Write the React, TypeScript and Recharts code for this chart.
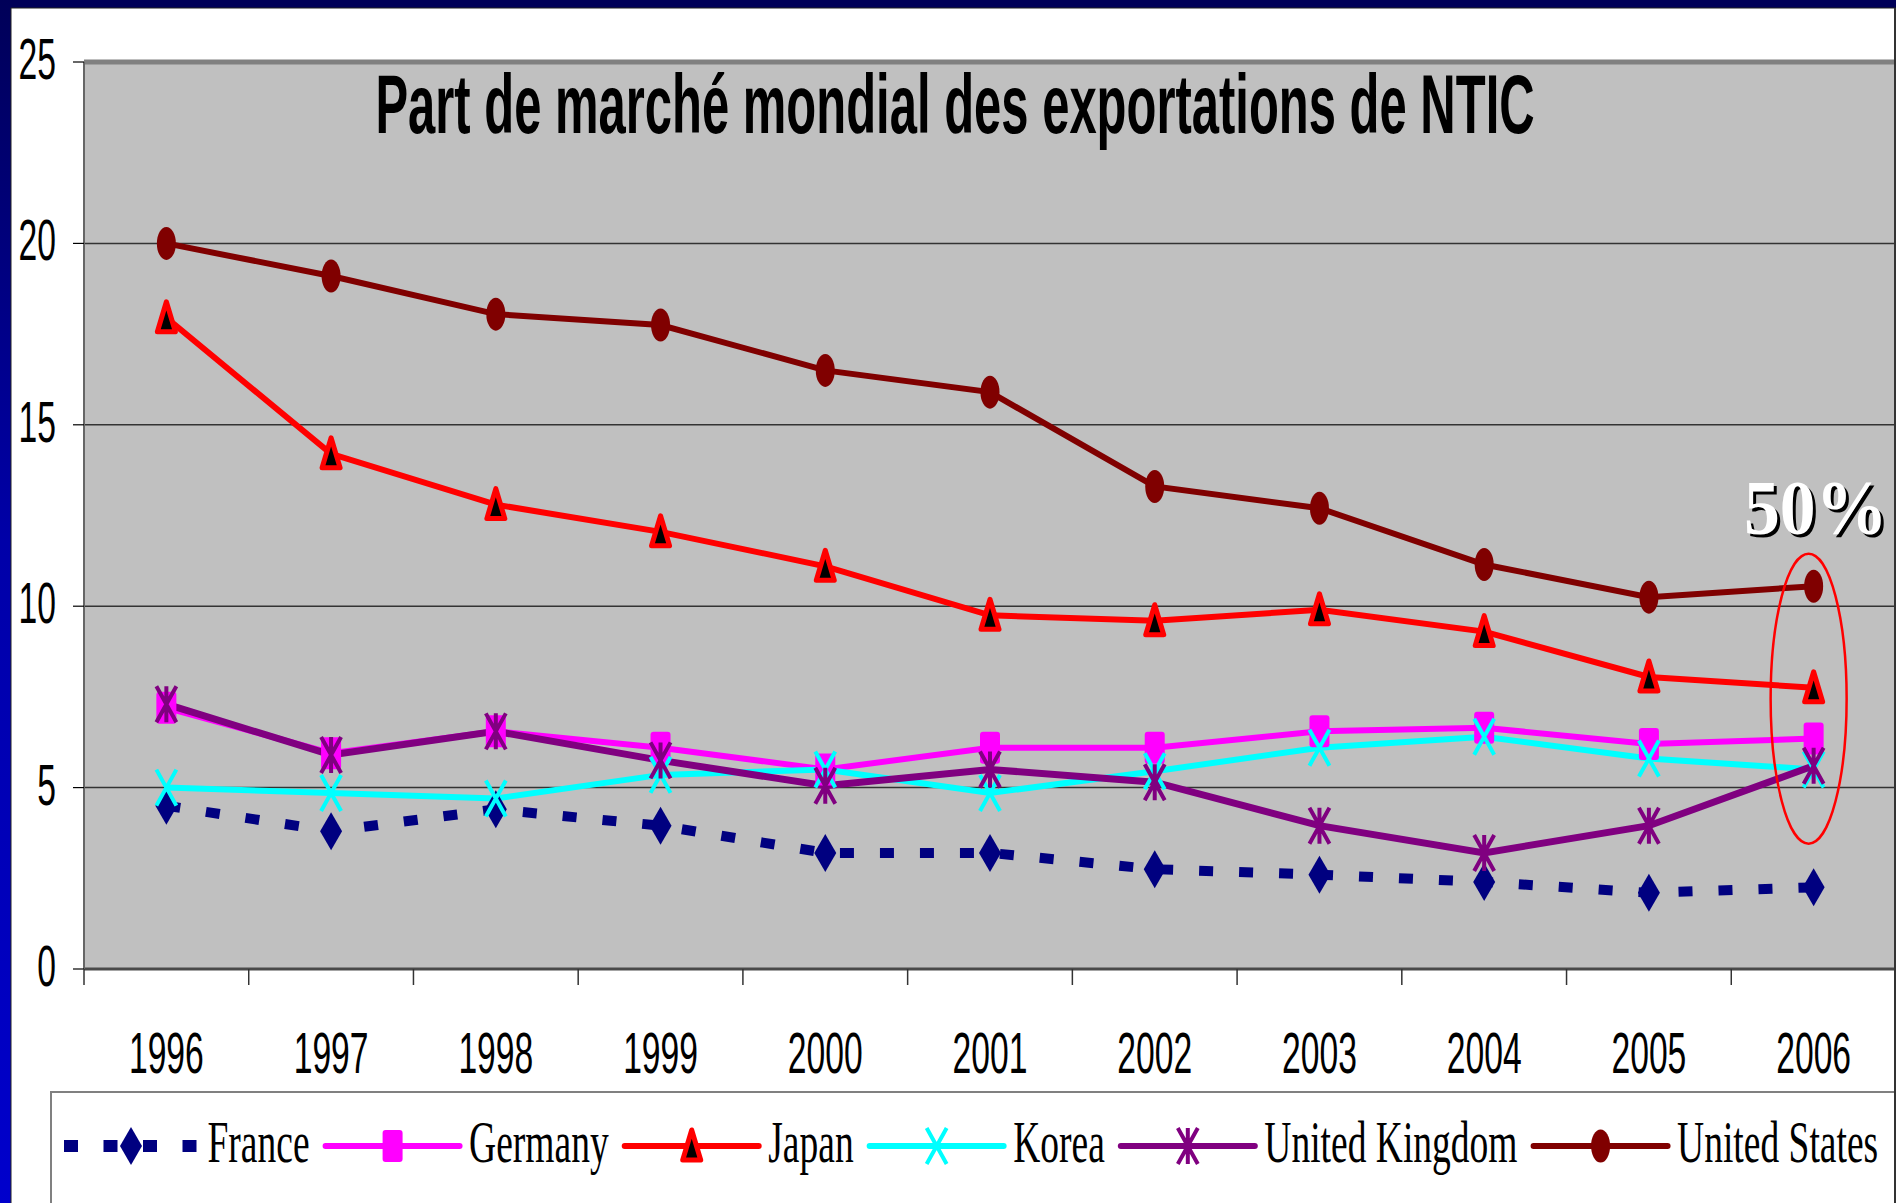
import React from 'react';
import {
  LineChart,
  Line,
  XAxis,
  YAxis,
  CartesianGrid,
  Legend,
  ReferenceLine,
  ReferenceDot,
} from 'recharts';

// ---------- data ----------
const YEARS = ['1996', '1997', '1998', '1999', '2000', '2001', '2002', '2003', '2004', '2005', '2006'];
const FRANCE = [4.5, 3.8, 4.4, 3.95, 3.2, 3.2, 2.75, 2.6, 2.4, 2.1, 2.25];
const GERMANY = [7.2, 5.95, 6.55, 6.1, 5.5, 6.1, 6.1, 6.55, 6.65, 6.2, 6.35];
const JAPAN = [17.95, 14.2, 12.8, 12.05, 11.1, 9.75, 9.6, 9.9, 9.3, 8.05, 7.75];
const KOREA = [5.0, 4.85, 4.7, 5.35, 5.5, 4.85, 5.45, 6.1, 6.4, 5.8, 5.5];
const UNITED_KINGDOM = [7.3, 5.9, 6.55, 5.75, 5.05, 5.5, 5.15, 3.95, 3.2, 3.95, 5.6];
const UNITED_STATES = [20.0, 19.1, 18.05, 17.75, 16.5, 15.9, 13.3, 12.7, 11.15, 10.25, 10.55];
const Y_TICKS = [0, 5, 10, 15, 20, 25];
const TITLE = 'Part de marché mondial des exportations de NTIC';
const ANNOTATION = '50%';
const ANNOTATION_YEAR = '2006';

type MarkerType = 'diamond' | 'square' | 'triangle' | 'x' | 'star' | 'ellipse';
interface SeriesDef {
  key: string;
  values: number[];
  color: string;
  width: number;
  dash?: string;
  marker: MarkerType;
}

const SERIES: SeriesDef[] = [
  { key: 'France', values: FRANCE, color: '#000080', width: 10, dash: '14 26', marker: 'diamond' },
  { key: 'Germany', values: GERMANY, color: '#FF00FF', width: 6, marker: 'square' },
  { key: 'Japan', values: JAPAN, color: '#FF0000', width: 6, marker: 'triangle' },
  { key: 'Korea', values: KOREA, color: '#00FFFF', width: 6, marker: 'x' },
  { key: 'United Kingdom', values: UNITED_KINGDOM, color: '#800080', width: 7, marker: 'star' },
  { key: 'United States', values: UNITED_STATES, color: '#800000', width: 6, marker: 'ellipse' },
];

const chartData = YEARS.map((year, i) => {
  const row: Record<string, string | number> = { year };
  SERIES.forEach((s) => {
    row[s.key] = s.values[i];
  });
  return row;
});

// ---------- layout ----------
const W = 1896;
const H = 1203;
const PLOT_LEFT = 84;
const PLOT_RIGHT = 1896;
const BAND = (PLOT_RIGHT - PLOT_LEFT) / YEARS.length;
const SANS = '"Liberation Sans", Arial, sans-serif';
const SERIF = '"Liberation Serif", "Times New Roman", serif';
const SQUEEZE = 0.58;
const LEGEND_SQUEEZE = 0.636;
const LEGEND_FONT = 59;

function Marker({ type, cx, cy, color }: { type: MarkerType; cx: number; cy: number; color: string }) {
  switch (type) {
    case 'diamond':
      return <polygon points={`${cx},${cy - 19} ${cx + 11},${cy} ${cx},${cy + 19} ${cx - 11},${cy}`} fill={color} />;
    case 'square':
      return <rect x={cx - 10} y={cy - 16} width={20} height={32} rx={3} fill={color} />;
    case 'triangle':
      return (
        <polygon
          points={`${cx},${cy - 16} ${cx + 9},${cy + 14} ${cx - 9},${cy + 14}`}
          fill="#000"
          stroke={color}
          strokeWidth={5}
          strokeLinejoin="round"
        />
      );
    case 'x':
      return (
        <path
          d={`M${cx - 10},${cy - 18}L${cx + 10},${cy + 18}M${cx + 10},${cy - 18}L${cx - 10},${cy + 18}`}
          stroke={color}
          strokeWidth={4}
          fill="none"
        />
      );
    case 'star':
      return (
        <path
          d={`M${cx - 10},${cy - 18}L${cx + 10},${cy + 18}M${cx + 10},${cy - 18}L${cx - 10},${cy + 18}M${cx},${cy - 18}L${cx},${cy + 18}`}
          stroke={color}
          strokeWidth={4}
          fill="none"
        />
      );
    case 'ellipse':
    default:
      return <ellipse cx={cx} cy={cy} rx={9.5} ry={16.5} fill={color} />;
  }
}

const makeDot = (s: SeriesDef) => (props: any) => {
  const { cx, cy, index } = props;
  if (cx == null || cy == null) return <g key={`${s.key}-${index}`} />;
  return (
    <g key={`${s.key}-${index}`}>
      <Marker type={s.marker} cx={cx} cy={cy} color={s.color} />
    </g>
  );
};

const renderYTick = (props: any) => {
  const { x, y, payload } = props;
  return (
    <text
      transform={`translate(${x},${y + 17}) scale(${SQUEEZE},1)`}
      textAnchor="end"
      fontSize={58}
      fontFamily={SANS}
      fill="#000"
    >
      {payload.value}
    </text>
  );
};

const renderXTick = (props: any) => {
  const { x, y, payload, index } = props;
  const half = BAND / 2;
  const last = index === YEARS.length - 1;
  return (
    <g>
      <line x1={x - half} x2={x - half} y1={y - 16} y2={y} stroke="#333" strokeWidth={1.5} />
      {last && <line x1={x + half} x2={x + half} y1={y - 16} y2={y} stroke="#333" strokeWidth={1.5} />}
      <text
        transform={`translate(${x},${y + 88}) scale(${SQUEEZE},1)`}
        textAnchor="middle"
        fontSize={58}
        fontFamily={SANS}
        fill="#000"
      >
        {payload.value}
      </text>
    </g>
  );
};

let measureCtx: CanvasRenderingContext2D | null = null;
function measure(text: string): number {
  try {
    if (!measureCtx) measureCtx = document.createElement('canvas').getContext('2d');
    if (measureCtx) {
      measureCtx.font = `${LEGEND_FONT}px "Liberation Serif"`;
      return measureCtx.measureText(text).width;
    }
  } catch (e) {
    /* ignore */
  }
  return text.length * LEGEND_FONT * 0.45;
}

function LegendBox() {
  const SAMPLE = 134;
  const GAP_TEXT = 9.5;
  const GAP_ITEM = 16;
  let x = 12;
  const lineY = 53;
  const baseY = 69;
  const items = SERIES.map((s) => {
    const x0 = x;
    const tw = measure(s.key) * LEGEND_SQUEEZE;
    x = x0 + SAMPLE + GAP_TEXT + tw + GAP_ITEM;
    return (
      <g key={s.key}>
        <line
          x1={x0}
          x2={x0 + SAMPLE}
          y1={lineY}
          y2={lineY}
          stroke={s.color}
          strokeWidth={s.dash ? 12 : 6}
          strokeDasharray={s.dash ? '14 25.5' : undefined}
          strokeLinecap={s.dash ? 'butt' : 'round'}
        />
        <Marker type={s.marker} cx={x0 + SAMPLE / 2} cy={lineY} color={s.color} />
        <text
          transform={`translate(${x0 + SAMPLE + GAP_TEXT},${baseY}) scale(${LEGEND_SQUEEZE},1)`}
          fontSize={LEGEND_FONT}
          fontFamily={SERIF}
          fill="#000"
        >
          {s.key}
        </text>
      </g>
    );
  });
  return (
    <div
      style={{
        width: W - 50,
        height: H - 1091,
        borderTop: '2px solid #808080',
        borderLeft: '2px solid #808080',
        boxSizing: 'border-box',
        background: '#fff',
      }}
    >
      <svg width={W - 52} height={H - 1093} style={{ display: 'block' }}>
        {items}
      </svg>
    </div>
  );
}

export default function App() {
  return (
    <div style={{ position: 'absolute', left: 0, top: 0, width: W, height: H, background: '#fff', overflow: 'hidden' }}>
      <LineChart width={W} height={H} data={chartData} margin={{ top: 62, right: 0, bottom: 114, left: 0 }}>
        <CartesianGrid vertical={false} stroke="#333" strokeWidth={1.5} fill="#C0C0C0" fillOpacity={1} />
        <XAxis
          dataKey="year"
          padding={{ left: BAND / 2, right: BAND / 2 }}
          height={120}
          tickSize={16}
          tickMargin={0}
          tickLine={false}
          axisLine={{ stroke: '#4a4a4a', strokeWidth: 3 }}
          interval={0}
          tick={renderXTick}
        />
        <YAxis
          width={84}
          domain={[0, 25]}
          ticks={Y_TICKS}
          interval={0}
          tickSize={11}
          tickMargin={17}
          axisLine={{ stroke: '#666', strokeWidth: 2 }}
          tickLine={{ stroke: '#000', strokeWidth: 1.2 }}
          tick={renderYTick}
        />
        <ReferenceLine y={25} stroke="#808080" strokeWidth={5} />
        {SERIES.map((s) => (
          <Line
            key={s.key}
            type="linear"
            dataKey={s.key}
            name={s.key}
            stroke={s.color}
            strokeWidth={s.width}
            strokeDasharray={s.dash}
            dot={makeDot(s)}
            activeDot={false}
            isAnimationActive={false}
          />
        ))}
        <ReferenceDot
          x={ANNOTATION_YEAR}
          y={7.45}
          r={0}
          ifOverflow="visible"
          shape={(p: any) => (
            <ellipse cx={p.cx - 5} cy={p.cy} rx={38} ry={145} fill="none" stroke="#FF0000" strokeWidth={2.5} />
          )}
        />
        <ReferenceDot
          x={ANNOTATION_YEAR}
          y={12}
          r={0}
          ifOverflow="visible"
          shape={(p: any) => (
            <g>
              <text
                transform={`translate(${p.cx + 5},${p.cy + 3}) scale(0.92,1)`}
                textAnchor="middle"
                fontSize={78}
                fontWeight="bold"
                fontFamily={SERIF}
                fill="#000"
              >
                {ANNOTATION}
              </text>
              <text
                transform={`translate(${p.cx + 2},${p.cy}) scale(0.92,1)`}
                textAnchor="middle"
                fontSize={78}
                fontWeight="bold"
                fontFamily={SERIF}
                fill="#fff"
              >
                {ANNOTATION}
              </text>
            </g>
          )}
        />
        <Legend
          layout="horizontal"
          verticalAlign="middle"
          align="center"
          content={() => <LegendBox />}
          wrapperStyle={{ left: 50, top: 1091, width: W - 50, height: H - 1091, margin: 0, padding: 0 }}
        />
      </LineChart>
      <svg
        width={W}
        height={H}
        style={{ position: 'absolute', left: 0, top: 0, pointerEvents: 'none' }}
      >
        <defs>
          <linearGradient id="leftBar" x1="0" y1="0" x2="0" y2="1">
            <stop offset="0" stopColor="#000058" />
            <stop offset="0.45" stopColor="#0000A8" />
            <stop offset="1" stopColor="#0000CC" />
          </linearGradient>
        </defs>
        <text
          transform={`translate(955,133) scale(0.583,1)`}
          textAnchor="middle"
          fontSize={84}
          fontWeight="bold"
          fontFamily={SANS}
          fill="#000"
        >
          {TITLE}
        </text>
        <rect x={0} y={0} width={W} height={8} fill="#000058" />
        <rect x={0} y={0} width={11} height={H} fill="url(#leftBar)" />
        <line x1={11} x2={11} y1={8} y2={H} stroke="#222" strokeWidth={1} />
        <line x1={11} x2={W} y1={8} y2={8} stroke="#222" strokeWidth={1} />
        <rect x={1894} y={8} width={2} height={H} fill="#333" />
      </svg>
    </div>
  );
}
